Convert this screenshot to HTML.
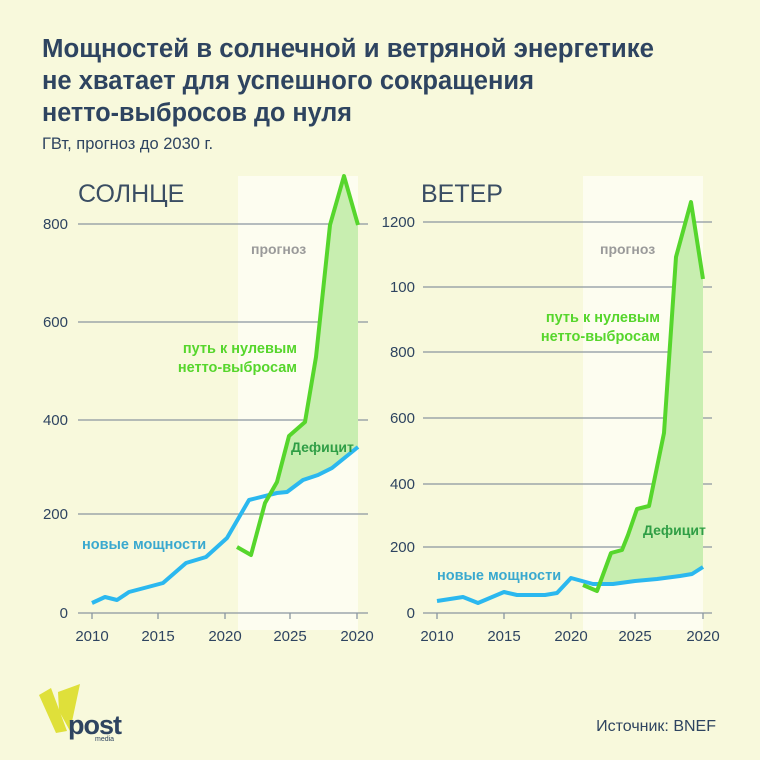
<!DOCTYPE html>
<html><head><meta charset="utf-8"><style>
body{margin:0;background:#f8f9dc;}
svg{display:block;font-family:"Liberation Sans","DejaVu Sans",sans-serif;}
</style></head><body>
<svg width="760" height="760" viewBox="0 0 760 760">
<rect width="760" height="760" fill="#f8f9dc"/>
<g fill="#2e4460" font-weight="bold" font-size="25.5">
<text x="42" y="57" textLength="612" lengthAdjust="spacingAndGlyphs">Мощностей в солнечной и ветряной энергетике</text>
<text x="42" y="89" textLength="492" lengthAdjust="spacingAndGlyphs">не хватает для успешного сокращения</text>
<text x="42" y="121" textLength="310" lengthAdjust="spacingAndGlyphs">нетто-выбросов до нуля</text>
</g>
<text x="42" y="149" font-size="16.5" fill="#2e4460">ГВт, прогноз до 2030 г.</text>

<!-- LEFT -->
<rect x="238" y="176" width="120" height="454" fill="#fdfdf0"/>
<g stroke="#8a96a0" stroke-width="1.3">
<line x1="78" y1="224" x2="368" y2="224"/><line x1="78" y1="322" x2="368" y2="322"/>
<line x1="78" y1="420" x2="368" y2="420"/><line x1="78" y1="514" x2="368" y2="514"/>
<line x1="78" y1="613" x2="368" y2="613"/>
<line x1="92" y1="613" x2="92" y2="619"/><line x1="158" y1="613" x2="158" y2="619"/><line x1="225" y1="613" x2="225" y2="619"/><line x1="290" y1="613" x2="290" y2="619"/><line x1="357" y1="613" x2="357" y2="619"/>
</g>
<text x="78" y="202" font-size="25" fill="#3a4d63">СОЛНЦЕ</text>
<g font-size="15" fill="#2e4460" text-anchor="end">
<text x="68" y="229">800</text><text x="68" y="327">600</text><text x="68" y="425">400</text><text x="68" y="519">200</text><text x="68" y="618">0</text>
</g>
<g font-size="15" fill="#2e4460" text-anchor="middle">
<text x="92" y="641">2010</text><text x="158" y="641">2015</text><text x="225" y="641">2020</text><text x="290" y="641">2025</text><text x="357" y="641">2020</text>
</g>
<polygon points="270,493 277,482 289,436 305,422 316,357 330,225 344,176 358,225 358,447 332,468 318,475 303,480 287,492 277,493" fill="#c8eeb0"/>
<polyline points="92,603 105,597 117,600 129,592 148,587 163,583 186,563 206,557 227,538 249,500 277,493 287,492 303,480 318,475 332,468 358,447" fill="none" stroke="#2bb8ef" stroke-width="4" stroke-linejoin="round"/>
<polyline points="237,547 251,555 265,503 277,482 289,436 305,422 316,357 330,225 344,176 358,225" fill="none" stroke="#56d62c" stroke-width="4" stroke-linejoin="round"/>
<text x="251" y="254" font-size="14" font-weight="bold" fill="#9a9a9a">прогноз</text>
<g font-size="14.5" font-weight="bold" fill="#56d62c" text-anchor="end"><text x="297" y="353">путь к нулевым</text><text x="297" y="372">нетто-выбросам</text></g>
<text x="291" y="452" font-size="14" font-weight="bold" fill="#2f9e45">Дефицит</text>
<text x="82" y="549" font-size="14.5" font-weight="bold" fill="#3aa9cf">новые мощности</text>

<!-- RIGHT -->
<rect x="583" y="176" width="120" height="454" fill="#fdfdf0"/>
<g stroke="#8a96a0" stroke-width="1.3">
<line x1="423" y1="222" x2="712" y2="222"/><line x1="423" y1="287" x2="712" y2="287"/>
<line x1="423" y1="352" x2="712" y2="352"/><line x1="423" y1="418" x2="712" y2="418"/>
<line x1="423" y1="484" x2="712" y2="484"/><line x1="423" y1="547" x2="712" y2="547"/>
<line x1="423" y1="613" x2="712" y2="613"/>
<line x1="437" y1="613" x2="437" y2="619"/><line x1="504" y1="613" x2="504" y2="619"/><line x1="571" y1="613" x2="571" y2="619"/><line x1="635" y1="613" x2="635" y2="619"/><line x1="703" y1="613" x2="703" y2="619"/>
</g>
<text x="421" y="202" font-size="25" fill="#3a4d63">ВЕТЕР</text>
<g font-size="15" fill="#2e4460" text-anchor="end">
<text x="415" y="227">1200</text><text x="415" y="292">100</text><text x="415" y="357">800</text><text x="415" y="423">600</text><text x="415" y="489">400</text><text x="415" y="552">200</text><text x="415" y="618">0</text>
</g>
<g font-size="15" fill="#2e4460" text-anchor="middle">
<text x="437" y="641">2010</text><text x="504" y="641">2015</text><text x="571" y="641">2020</text><text x="635" y="641">2025</text><text x="703" y="641">2020</text>
</g>
<polygon points="601,584 611,553 622,550 628,535 637,509 649,506 664,433 676,257 691,202 703,279 703,567 692,574 680,576 657,579 635,581 613,584" fill="#c8eeb0"/>
<polyline points="437,601 463,597 478,603 504,592 517,595 545,595 557,593 571,578 593,584 613,584 635,581 657,579 680,576 692,574 703,567" fill="none" stroke="#2bb8ef" stroke-width="4" stroke-linejoin="round"/>
<polyline points="583,585 597,591 611,553 622,550 628,535 637,509 649,506 664,433 676,257 691,202 703,279" fill="none" stroke="#56d62c" stroke-width="4" stroke-linejoin="round"/>
<text x="600" y="254" font-size="14" font-weight="bold" fill="#9a9a9a">прогноз</text>
<g font-size="14.5" font-weight="bold" fill="#56d62c" text-anchor="end"><text x="660" y="322">путь к нулевым</text><text x="660" y="341">нетто-выбросам</text></g>
<text x="643" y="535" font-size="14" font-weight="bold" fill="#2f9e45">Дефицит</text>
<text x="437" y="580" font-size="14.5" font-weight="bold" fill="#3aa9cf">новые мощности</text>

<!-- logo -->
<polygon points="39,695 51,688 67,731 56,733" fill="#dfe03a"/>
<polygon points="58,692 80,684 70,731 59,711" fill="#dfe03a"/>
<text x="68" y="734" font-size="27" font-weight="bold" fill="#2e4460" letter-spacing="-1">post</text>
<text x="95" y="741" font-size="7" fill="#2e4460">media</text>
<text x="716" y="731" font-size="16" fill="#2e4460" text-anchor="end">Источник: BNEF</text>
</svg>
</body></html>
